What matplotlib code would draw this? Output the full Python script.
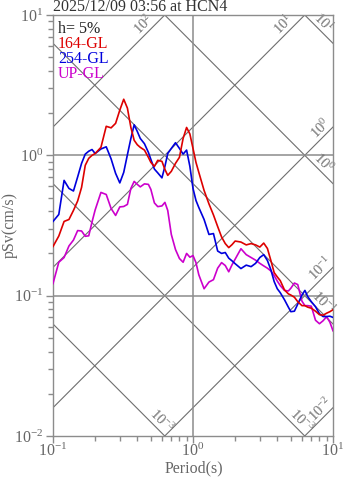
import numpy as np
import matplotlib
matplotlib.use("Agg")
import matplotlib.pyplot as plt
from matplotlib import transforms
from matplotlib.ticker import LogLocator, NullFormatter

plt.rcParams['font.family'] = 'Liberation Serif'
plt.rcParams['mathtext.fontset'] = 'custom'
plt.rcParams['mathtext.rm'] = 'Liberation Serif'
plt.rcParams['mathtext.it'] = 'Liberation Serif:italic'

# response spectra, h = 5%
period = [0.10, 0.11, 0.12, 0.13, 0.14, 0.15, 0.16, 0.17, 0.18, 0.19,
          0.20, 0.22, 0.24, 0.26, 0.28, 0.30, 0.32, 0.34, 0.36, 0.38,
          0.40, 0.42, 0.45, 0.48, 0.50, 0.53, 0.56, 0.60, 0.63, 0.66,
          0.70, 0.75, 0.80, 0.85, 0.90, 0.95, 1.00, 1.05, 1.1, 1.2,
          1.3, 1.4, 1.5, 1.6, 1.7, 1.8, 1.9, 2.0, 2.2, 2.4,
          2.6, 2.8, 3.0, 3.2, 3.4, 3.6, 3.8, 4.0, 4.2, 4.5,
          4.8, 5.0, 5.3, 5.6, 6.0, 6.3, 6.6, 7.0, 7.5, 8.0,
          8.5, 9.0, 9.5, 10.0]

sv_164 = [0.224, 0.266, 0.338, 0.349, 0.405, 0.473, 0.591, 0.849, 0.952, 1.00,
          1.03, 1.14, 1.61, 1.57, 1.69, 2.10, 2.51, 2.17, 1.58, 1.28,
          1.19, 1.14, 1.09, 0.968, 0.891, 0.834, 0.921, 0.906, 0.794, 0.720,
          0.769, 0.877, 0.968, 1.32, 1.58, 1.42, 1.12, 0.891, 0.757, 0.562,
          0.451, 0.376, 0.311, 0.262, 0.235, 0.220, 0.231, 0.245, 0.241, 0.230,
          0.235, 0.230, 0.222, 0.237, 0.217, 0.178, 0.146, 0.136, 0.128, 0.110,
          0.103, 0.101, 0.0975, 0.0906, 0.0849, 0.0849, 0.0828, 0.0814, 0.0775, 0.0732,
          0.0726, 0.0750, 0.0769, 0.0794]

sv_254 = [0.338, 0.379, 0.663, 0.581, 0.557, 0.702, 0.877, 1.02, 1.07, 1.10,
          1.03, 1.11, 1.15, 0.944, 0.744, 0.636, 0.756, 1.01, 1.32, 1.65,
          1.48, 1.32, 1.21, 1.05, 0.936, 0.798, 0.750, 0.691, 0.834, 1.03,
          1.12, 1.23, 1.12, 1.02, 1.09, 0.834, 0.581, 0.477, 0.425, 0.349,
          0.273, 0.277, 0.208, 0.200, 0.203, 0.185, 0.177, 0.169, 0.156, 0.165,
          0.161, 0.170, 0.187, 0.196, 0.178, 0.153, 0.126, 0.112, 0.105, 0.0936,
          0.0828, 0.0769, 0.0775, 0.0870, 0.101, 0.109, 0.0984, 0.0906, 0.0834, 0.0743,
          0.0710, 0.0710, 0.0714, 0.0700]

sv_up = [0.122, 0.173, 0.187, 0.226, 0.249, 0.291, 0.289, 0.265, 0.267, 0.335,
         0.408, 0.544, 0.526, 0.418, 0.373, 0.429, 0.432, 0.447, 0.581, 0.652,
         0.621, 0.596, 0.626, 0.621, 0.572, 0.458, 0.431, 0.436, 0.462, 0.405,
         0.273, 0.213, 0.184, 0.173, 0.200, 0.188, 0.193, 0.172, 0.141, 0.112,
         0.125, 0.130, 0.157, 0.172, 0.164, 0.148, 0.166, 0.182, 0.216, 0.196,
         0.187, 0.179, 0.170, 0.163, 0.157, 0.150, 0.139, 0.127, 0.118, 0.109,
         0.108, 0.113, 0.123, 0.120, 0.0914, 0.0849, 0.0849, 0.0841, 0.0668, 0.0631,
         0.0663, 0.0708, 0.0647, 0.0562]

# tripartite guide lines: acceleration (cm/s^2) and displacement (cm)
acc_levels = [1e2, 1e1, 1e0, 1e-1, 1e-2]
acc_labels = [r'$10^2$', r'$10^1$', r'$10^0$', r'$10^{-1}$', r'$10^{-2}$']
disp_levels = [1e1, 1e0, 1e-1, 1e-2, 1e-3]
disp_labels = [r'$10^1$', r'$10^0$', r'$10^{-1}$', r'$10^{-3}$', r'$10^{-3}$']

title = '2025/12/09 03:56 at HCN4'
t_min, t_max = 0.1, 10.0
v_min, v_max = 0.01, 10.0

fig = plt.figure(figsize=(3.47, 4.78), dpi=100)
ax = fig.add_axes([53 / 347, 42 / 478, 280 / 347, 421 / 478])
ax.set_xscale('log')
ax.set_yscale('log')
ax.set_xlim(t_min, t_max)
ax.set_ylim(v_min, v_max)

gcol = '#6e6e6e'
tt = np.array([t_min, t_max])
for a in acc_levels:
    ax.plot(tt, a * tt / (2 * np.pi), color=gcol, lw=0.8, zorder=1)
for d in disp_levels:
    ax.plot(tt, 2 * np.pi * d / tt, color=gcol, lw=0.8, zorder=1)

ax.axvline(1.0, color='#8c8c8c', lw=1.1, zorder=1)
for yv in [1.0, 0.1]:
    ax.axhline(yv, color='#8c8c8c', lw=1.1, zorder=1)


def put_label(tx, ty, txt, rot, back, dirx, diry):
    # shift the anchor back along the line by `back` pixels
    k = back / np.sqrt(2)
    tr = transforms.offset_copy(ax.transData, fig=fig, x=dirx * k, y=diry * k, units='dots')
    ax.text(tx, ty, txt, transform=tr, rotation=rot, rotation_mode='anchor',
            ha='center', va='bottom', fontsize=10.5, color='#707070', zorder=2)


for a, lab in zip(acc_levels, acc_labels):
    te = min(t_max, 2 * np.pi * v_max / a)
    ve = a * te / (2 * np.pi)
    back = 22 if te < t_max else 10
    put_label(te, ve, lab, 45, back, -1, -1)

for d, lab in zip(disp_levels, disp_labels):
    ve = 2 * np.pi * d / t_max
    if ve >= v_min:
        te, back = t_max, 22
    else:
        te, ve, back = 2 * np.pi * d / v_min, v_min, 13
    put_label(te, ve, lab, -45, back, -1, 1)

ax.plot(period, sv_up, color='#cc00cc', lw=1.2, zorder=3)
ax.plot(period, sv_254, color='#0000dd', lw=1.2, zorder=4)
ax.plot(period, sv_164, color='#dd0000', lw=1.2, zorder=5)

for s in ax.spines.values():
    s.set_color('#8c8c8c')
    s.set_linewidth(1.0)
ax.xaxis.set_minor_locator(LogLocator(base=10, subs=np.arange(2, 10)))
ax.yaxis.set_minor_locator(LogLocator(base=10, subs=np.arange(2, 10)))
ax.xaxis.set_minor_formatter(NullFormatter())
ax.yaxis.set_minor_formatter(NullFormatter())
ax.tick_params(which='major', length=5, width=1, color='#8c8c8c',
               labelcolor='#666666', labelsize=11.5)
ax.tick_params(axis='x', which='major', pad=0)
ax.tick_params(axis='y', which='major', pad=2)
ax.tick_params(which='minor', length=3.5, width=1, color='#8c8c8c')

ax.text(0.018, 0.957, 'h= 5%', transform=ax.transAxes, fontsize=11.5, color='#222222', va='baseline')
ax.text(0.018, 0.922, '164-GL', transform=ax.transAxes, fontsize=11.5, color='#dd0000', va='baseline')
ax.text(0.018, 0.886, '254-GL', transform=ax.transAxes, fontsize=11.5, color='#0000dd', va='baseline')
ax.text(0.018, 0.850, 'UP-GL', transform=ax.transAxes, fontsize=11.5, color='#cc00cc', va='baseline')

fig.text(53 / 347, 1 - 11 / 478, title, fontsize=11.5, color='#333333', va='baseline', ha='left')
fig.text(10 / 347, 1 - 225 / 478, 'pSv(cm/s)', rotation=90, fontsize=11.5, color='#666666',
         ha='center', va='center')
fig.text(194 / 347, 1 - 468 / 478, 'Period(s)', fontsize=11.5, color='#666666',
         ha='center', va='center')

fig.savefig('out.png', dpi=100)
